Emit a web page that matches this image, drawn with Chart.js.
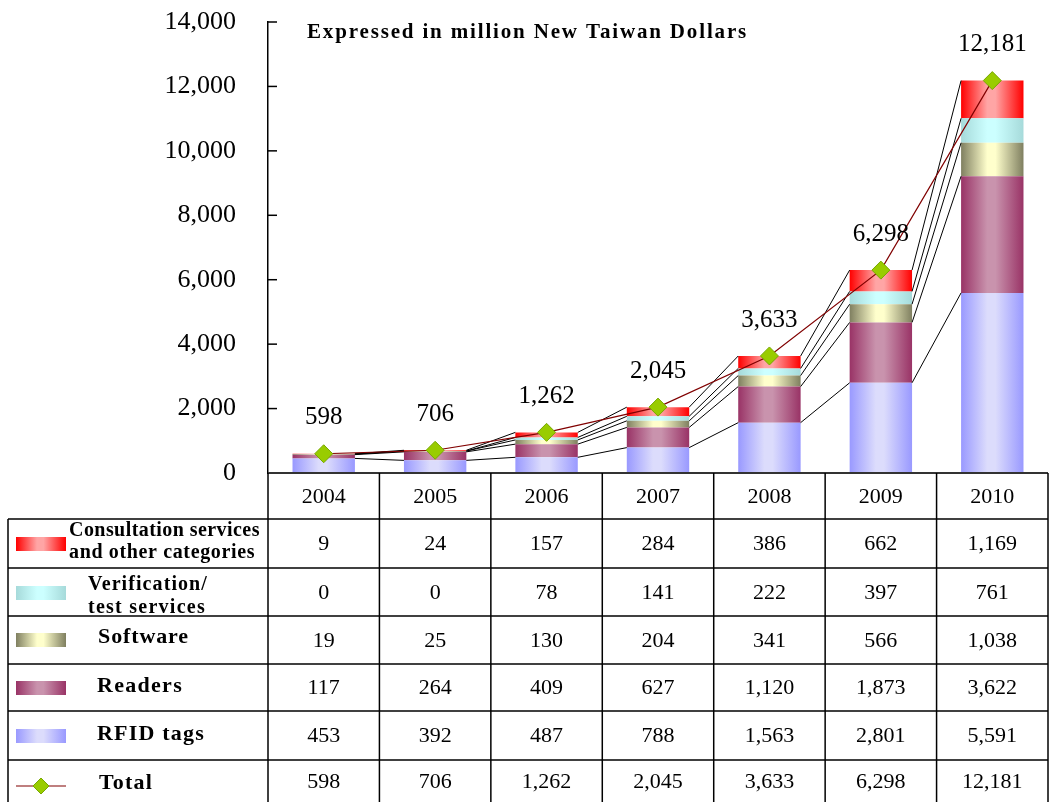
<!DOCTYPE html>
<html>
<head>
<meta charset="utf-8">
<script src="https://cdn.jsdelivr.net/npm/chart.js@4"></script>
<style>
html,body{margin:0;padding:0;background:#fff;overflow:hidden;}
canvas{display:block;}
</style>
</head>
<body>
<canvas id="c" width="1058" height="802"></canvas>
<script>
const categories = ['2004','2005','2006','2007','2008','2009','2010'];
const consultation = [9,24,157,284,386,662,1169];
const verification = [0,0,78,141,222,397,761];
const software = [19,25,130,204,341,566,1038];
const readers = [117,264,409,627,1120,1873,3622];
const rfidTags = [453,392,487,788,1563,2801,5591];
const total = [598,706,1262,2045,3633,6298,12181];
const yTickValues = [0,2000,4000,6000,8000,10000,12000,14000];
const unitNote = 'Expressed in million New Taiwan Dollars';
const rowLabels = [['Consultation services','and other categories'],['Verification/','test services'],['Software'],['Readers'],['RFID tags'],['Total']];

const SERIF = '"Liberation Serif","Times New Roman",serif';
const fmt = v => v.toLocaleString('en-US');

const palettes = {
  rfid: ['#9999ff','#dcdcfc'],
  readers: ['#993366','#c993ad'],
  software: ['#7f7f60','#ffffcc'],
  verification: ['#a6dada','#ccffff'],
  consultation: ['#ff0000','#ffa5a5']
};

function makeGrad(ctx2d, left, right, pal){
  const g = ctx2d.createLinearGradient(left,0,right,0);
  g.addColorStop(0, pal[0]);
  g.addColorStop(0.42, pal[1]);
  g.addColorStop(0.55, pal[1]);
  g.addColorStop(1, pal[0]);
  return g;
}

function barFill(pal){
  return function(c){
    const chart = c.chart;
    if(!chart.chartArea || !chart.scales.x) return pal[0];
    const xs = chart.scales.x;
    const cx = xs.getPixelForValue(c.dataIndex);
    const w = (chart.chartArea.width/categories.length)*0.56;
    return makeGrad(chart.ctx, cx-w/2, cx+w/2, pal);
  };
}

function spacedText(ctx, text, x, y, targetW){
  ctx.letterSpacing = '0px';
  const w = ctx.measureText(text).width;
  const n = text.length;
  const sp = targetW ? Math.max(-0.6, (targetW - w)/n) : 0;
  ctx.letterSpacing = sp.toFixed(2)+'px';
  ctx.fillText(text, x, y);
  ctx.letterSpacing = '0px';
}

const seriesLines = {
  id:'seriesLines',
  beforeDatasetDraw(chart, args){
    if(args.index !== 5) return;
    const ctx = chart.ctx;
    ctx.save();
    ctx.strokeStyle = '#000';
    ctx.lineWidth = 1;
    for(let d=0; d<5; d++){
      const meta = chart.getDatasetMeta(d);
      for(let i=0;i<meta.data.length-1;i++){
        const a = meta.data[i], b = meta.data[i+1];
        ctx.beginPath();
        ctx.moveTo(a.x + a.width/2, a.y);
        ctx.lineTo(b.x - b.width/2, b.y);
        ctx.stroke();
      }
    }
    ctx.restore();
  }
};

const extras = {
  id:'extras',
  afterDraw(chart){
    const ctx = chart.ctx;
    const ca = chart.chartArea;
    const xs = chart.scales.x, ys = chart.scales.y;
    ctx.save();
    ctx.strokeStyle = '#000'; ctx.lineWidth = 1.5;
    yTickValues.forEach(v=>{
      const y = ys.getPixelForValue(v);
      ctx.beginPath(); ctx.moveTo(ca.left, y); ctx.lineTo(ca.left+9, y); ctx.stroke();
    });
    ctx.fillStyle = '#000';
    ctx.font = 'bold 21px '+SERIF;
    ctx.textAlign='left'; ctx.textBaseline='middle';
    spacedText(ctx, unitNote, 307, 33, 441);
    const lm = chart.getDatasetMeta(5);
    ctx.font = '25px '+SERIF;
    ctx.textAlign='center';
    lm.data.forEach((p,i)=>{
      ctx.fillText(fmt(total[i]), p.x, p.y-36);
    });

    const colW = ca.width/categories.length;
    const headTop = ca.bottom;
    const rows = [519,568,616,664,711,760,802];
    const tableLeft = 8;
    ctx.strokeStyle = '#333'; ctx.lineWidth = 2;
    ctx.beginPath(); ctx.moveTo(ca.left, headTop); ctx.lineTo(ca.right, headTop); ctx.stroke();
    ctx.strokeStyle = '#000'; ctx.lineWidth = 1.5;
    for(let r=0;r<rows.length-1;r++){
      ctx.beginPath(); ctx.moveTo(tableLeft, rows[r]); ctx.lineTo(ca.right, rows[r]); ctx.stroke();
    }
    ctx.beginPath(); ctx.moveTo(tableLeft, rows[0]); ctx.lineTo(tableLeft, 802); ctx.stroke();
    for(let i=0;i<=categories.length;i++){
      const x = ca.left + i*colW;
      ctx.beginPath(); ctx.moveTo(x, headTop); ctx.lineTo(x, 802); ctx.stroke();
    }
    ctx.font = '22px '+SERIF; ctx.textAlign='center'; ctx.textBaseline='middle';
    categories.forEach((c,i)=>{
      ctx.fillText(c, xs.getPixelForValue(i), (headTop+rows[0])/2+1);
    });
    const rowData = [consultation, verification, software, readers, rfidTags, total];
    rowData.forEach((arr,r)=>{
      const yc = (rows[r]+rows[r+1])/2+1;
      arr.forEach((v,i)=>{
        ctx.fillText(fmt(v), xs.getPixelForValue(i), yc);
      });
    });
    const pals = [palettes.consultation, palettes.verification, palettes.software, palettes.readers, palettes.rfid];
    const swY = [537,586,633,681,729];
    pals.forEach((pal,r)=>{
      ctx.fillStyle = makeGrad(ctx, 16, 66, pal);
      ctx.fillRect(16, swY[r], 50, 14);
    });
    ctx.strokeStyle = '#800000'; ctx.lineWidth = 1.2;
    ctx.beginPath(); ctx.moveTo(16, 786); ctx.lineTo(66, 786); ctx.stroke();
    ctx.fillStyle = '#99cc00'; ctx.strokeStyle = '#77a800'; ctx.lineWidth = 1;
    ctx.beginPath(); ctx.moveTo(41,778); ctx.lineTo(49,786); ctx.lineTo(41,794); ctx.lineTo(33,786); ctx.closePath(); ctx.fill(); ctx.stroke();
    ctx.fillStyle = '#000';
    ctx.textAlign='left';
    const labPos = [[69,[531,553],[191,186],20],[88,[585,608],[120,118],20],[98,[637],[91],22],[97,[686],[86],22],[97,[734],[108],22],[99,[783],[54],22]];
    rowLabels.forEach((lines,r)=>{
      ctx.font = 'bold '+labPos[r][3]+'px '+SERIF;
      lines.forEach((t,k)=>{
        spacedText(ctx, t, labPos[r][0], labPos[r][1][k], labPos[r][2][k]);
      });
    });
    ctx.restore();
  }
};

new Chart(document.getElementById('c'), {
  type:'bar',
  data:{
    labels: categories,
    datasets:[
      {label:'RFID tags', data: rfidTags, backgroundColor: barFill(palettes.rfid), stack:'s', order:1},
      {label:'Readers', data: readers, backgroundColor: barFill(palettes.readers), stack:'s', order:1},
      {label:'Software', data: software, backgroundColor: barFill(palettes.software), stack:'s', order:1},
      {label:'Verification/test services', data: verification, backgroundColor: barFill(palettes.verification), stack:'s', order:1},
      {label:'Consultation services and other categories', data: consultation, backgroundColor: barFill(palettes.consultation), stack:'s', order:1},
      {label:'Total', type:'line', data: total, stack:'t', order:0,
       borderColor:'#800000', borderWidth:1.2, pointStyle:'rectRot', pointRadius:9,
       pointBackgroundColor:'#99cc00', pointBorderColor:'#77a800', pointBorderWidth:1, tension:0}
    ]
  },
  options:{
    responsive:false,
    animation:false,
    layout:{padding:{left:0, right:0, top:22, bottom:329}},
    datasets:{bar:{categoryPercentage:1, barPercentage:0.56}},
    plugins:{legend:{display:false}, tooltip:{enabled:false}, title:{display:false}},
    scales:{
      x:{display:false, stacked:true},
      y:{
        stacked:true, min:0, max:14000,
        afterFit(s){ s.width = 268; s.paddingTop = 0; s.paddingBottom = 0; },
        afterBuildTicks(s){ s.ticks = yTickValues.map(v=>({value:v})); },
        grid:{display:true, drawOnChartArea:false, drawTicks:false},
        border:{display:true, color:'#000', width:1.5},
        ticks:{padding:32, color:'#000', font:{family:SERIF, size:26}, callback:v=>fmt(v)}
      }
    }
  },
  plugins:[seriesLines, extras]
});
</script>
</body>
</html>
